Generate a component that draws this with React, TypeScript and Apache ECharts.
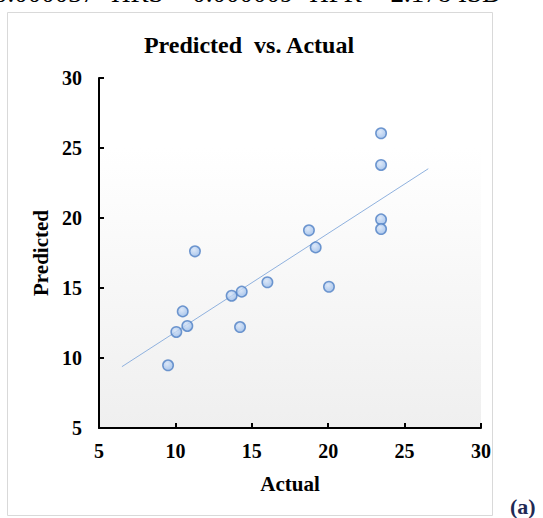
import React, { useEffect, useRef } from "react";
import * as echarts from "echarts";

const actual = [23.46, 23.46, 23.46, 23.46, 18.74, 19.18, 11.28, 16.02, 20.05, 13.68, 14.34, 10.48, 10.78, 10.06, 14.23, 9.52];
const predicted = [26.05, 23.79, 19.9, 19.21, 19.12, 17.9, 17.62, 15.41, 15.09, 14.45, 14.74, 13.33, 12.29, 11.86, 12.21, 9.48];
const trendX = [6.5, 26.55];
const trendY = [9.38, 23.52];
const xTicks = [5, 10, 15, 20, 25, 30];
const yTicks = [5, 10, 15, 20, 25, 30];

const FONT = "'Liberation Serif', 'Times New Roman', serif";

export default function App() {
  const ref = useRef<HTMLDivElement>(null);
  useEffect(() => {
    if (!ref.current) return;
    const chart = echarts.init(ref.current, null, { renderer: "svg" });
    const points = actual.map((x, i) => [x, predicted[i]]);
    const trend = trendX.map((x, i) => [x, trendY[i]]);
    chart.setOption({
      animation: false,
      backgroundColor: "#ffffff",
      title: {
        text: "Predicted  vs. Actual",
        left: 244,
        top: 28,
        textAlign: "center",
        textStyle: { fontFamily: FONT, fontWeight: "bold", fontSize: 24, color: "#000" },
      },
      graphic: [
        {
          type: "rect",
          shape: { x: 7.5, y: 12.5, width: 485, height: 503 },
          style: { fill: "none", stroke: "#d9d9d9", lineWidth: 1 },
          z: -10,
        },
        {
          type: "text",
          x: -6,
          y: 6,
          style: {
            text: "0.000037· HRS + 0.000009· HFR + 2.178 ISD",
            font: "27px " + FONT,
            fill: "#000",
            textVerticalAlign: "bottom",
          },
        },
        {
          type: "text",
          x: 510,
          y: 506,
          style: {
            text: "(a)",
            font: "bold 22px " + FONT,
            fill: "#1f2a55",
            textVerticalAlign: "middle",
          },
        },
      ],
      grid: {
        left: 99,
        top: 78,
        right: 62,
        bottom: 90,
        show: true,
        borderWidth: 0,
        backgroundColor: new echarts.graphic.LinearGradient(0, 0, 0, 1, [
          { offset: 0, color: "#ffffff" },
          { offset: 0.2, color: "#ffffff" },
          { offset: 1, color: "#efefef" },
        ]),
      },
      xAxis: {
        type: "value",
        min: xTicks[0],
        max: xTicks[xTicks.length - 1],
        interval: 5,
        name: "Actual",
        nameLocation: "middle",
        nameGap: 45,
        nameTextStyle: { fontFamily: FONT, fontWeight: "bold", fontSize: 21, color: "#000" },
        axisLine: { show: true, lineStyle: { color: "#000", width: 2 } },
        axisTick: { show: true, inside: true, length: 5, lineStyle: { color: "#000", width: 2 } },
        axisLabel: { fontFamily: FONT, fontWeight: "bold", fontSize: 20, color: "#000", margin: 13 },
        splitLine: { show: false },
      },
      yAxis: {
        type: "value",
        min: yTicks[0],
        max: yTicks[yTicks.length - 1],
        interval: 5,
        name: "Predicted",
        nameLocation: "middle",
        nameGap: 44,
        nameTextStyle: { fontFamily: FONT, fontWeight: "bold", fontSize: 21, color: "#000" },
        axisLine: { show: true, lineStyle: { color: "#000", width: 2 } },
        axisTick: { show: true, inside: true, length: 5, lineStyle: { color: "#000", width: 2 } },
        axisLabel: {
          fontFamily: FONT,
          fontWeight: "bold",
          fontSize: 20,
          color: "#000",
          margin: 17,
        },
        splitLine: { show: false },
      },
      series: [
        {
          type: "line",
          data: trend,
          symbol: "none",
          lineStyle: { color: "#8fb1de", width: 1 },
          z: 1,
        },
        {
          type: "scatter",
          data: points,
          symbol: "circle",
          symbolSize: 10.5,
          itemStyle: {
            color: new echarts.graphic.RadialGradient(0.4, 0.35, 0.7, [
              { offset: 0, color: "#d6e4f8" },
              { offset: 1, color: "#94b8e8" },
            ]),
            borderColor: "#4f7fc4",
            borderWidth: 1.5,
          },
          z: 3,
        },
      ],
    });
    return () => chart.dispose();
  }, []);
  return <div ref={ref} style={{ width: 543, height: 518, position: "absolute", left: 0, top: 0 }} />;
}
